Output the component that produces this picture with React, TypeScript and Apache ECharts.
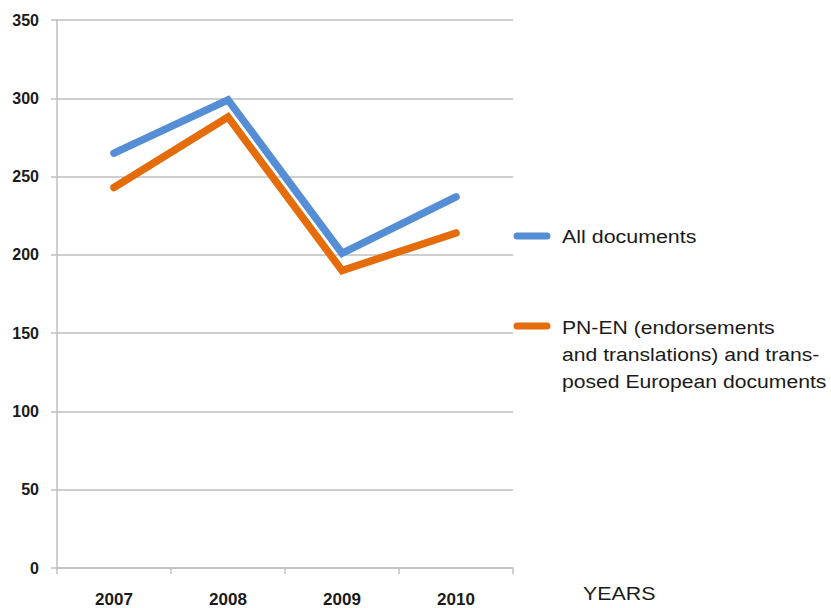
import React, { useEffect, useRef } from "react";
import * as echarts from "echarts";

const years = ["2007", "2008", "2009", "2010"];
const allDocuments = [265, 299, 201, 237];
const pnEn = [243, 288, 190, 214];
const yTicks = { min: 0, max: 350, interval: 50 };
const seriesNames = ["All documents", "PN-EN (endorsements\nand translations) and trans-\nposed European documents"];
const axisName = "YEARS";

const BLUE = "#558ed5";
const ORANGE = "#e46c0a";
const FONT = "'Liberation Sans', Arial, sans-serif";

export default function App() {
  const ref = useRef<HTMLDivElement>(null);
  useEffect(() => {
    if (!ref.current) return;
    const chart = echarts.init(ref.current, null, { renderer: "svg" });
    chart.setOption({
      animation: false,
      backgroundColor: "#ffffff",
      grid: { left: 57, right: 318, top: 20, bottom: 38, containLabel: false },
      xAxis: {
        type: "category",
        data: years,
        boundaryGap: true,
        axisLine: { show: true, lineStyle: { color: "#bfbfbf", width: 1.5 } },
        axisTick: { show: true, length: 6, lineStyle: { color: "#bfbfbf", width: 1.5 } },
        axisLabel: { margin: 23, fontFamily: FONT, fontWeight: "bold", fontSize: 17, color: "#1a1a1a" },
        splitLine: { show: false },
      },
      yAxis: {
        type: "value",
        min: yTicks.min,
        max: yTicks.max,
        interval: yTicks.interval,
        axisLine: { show: true, lineStyle: { color: "#bfbfbf", width: 1.5 } },
        axisTick: { show: true, length: 6, lineStyle: { color: "#bfbfbf", width: 1.5 } },
        axisLabel: { margin: 18, fontFamily: FONT, fontWeight: "bold", fontSize: 16, color: "#1a1a1a" },
        splitLine: { show: true, lineStyle: { color: "#bfbfbf", width: 1.5 } },
      },
      series: [
        {
          name: seriesNames[0],
          type: "line",
          data: allDocuments,
          symbol: "none",
          lineStyle: { color: BLUE, width: 7.5, cap: "round", join: "miter" },
          itemStyle: { color: BLUE },
        },
        {
          name: seriesNames[1],
          type: "line",
          data: pnEn,
          symbol: "none",
          lineStyle: { color: ORANGE, width: 7.5, cap: "round", join: "miter" },
          itemStyle: { color: ORANGE },
        },
      ],
      graphic: [
        {
          type: "line",
          shape: { x1: 517, y1: 236, x2: 547, y2: 236 },
          style: { stroke: BLUE, lineWidth: 7, lineCap: "round" },
        },
        {
          type: "text",
          x: 562,
          y: 237,
          scaleX: 1.19,
          style: { text: seriesNames[0], font: `18px ${FONT}`, fill: "#1a1a1a", verticalAlign: "middle" },
        },
        {
          type: "line",
          shape: { x1: 517, y1: 326, x2: 547, y2: 326 },
          style: { stroke: ORANGE, lineWidth: 7, lineCap: "round" },
        },
        {
          type: "text",
          x: 562,
          y: 314,
          scaleX: 1.175,
          style: { text: seriesNames[1], font: `18px ${FONT}`, fill: "#1a1a1a", lineHeight: 27, verticalAlign: "top" },
        },
        {
          type: "text",
          x: 583,
          y: 594,
          scaleX: 1.19,
          style: { text: axisName, font: `18px ${FONT}`, fill: "#1a1a1a", verticalAlign: "middle" },
        },
      ],
    });
    return () => chart.dispose();
  }, []);
  return <div ref={ref} style={{ width: 831, height: 608, position: "absolute", left: 0, top: 0 }} />;
}
